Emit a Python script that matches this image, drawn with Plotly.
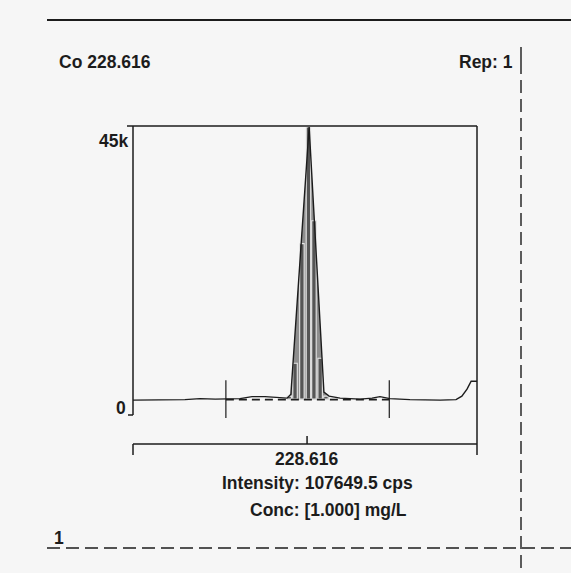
import plotly.graph_objects as go

# ---------------- data ----------------
element_line = "Co 228.616"
rep_label = "Rep: 1"
center_wl = 228.616
intensity_text = "Intensity: 107649.5 cps"
conc_text = "Conc: [1.000] mg/L"
y_tick_labels = ["45k", "0"]
y_tick_values = [45000, 0]
page_number = "1"

# spectrum (wavelength nm, intensity cps)
spec_wl = [228.5654, 228.5733, 228.5805, 228.5849, 228.5893, 228.5965, 228.6000,
           228.6038, 228.6082, 228.6102, 228.6113, 228.6166, 228.6209, 228.6224,
           228.6256, 228.6314, 228.6349, 228.6372, 228.6401, 228.6459, 228.6547,
           228.6593, 228.6610, 228.6625, 228.6637, 228.6654]
spec_int = [2336, 2336, 2413, 2569, 2491, 2569, 2880,
            2880, 2647, 2647, 3270, 45000, 3581, 2958,
            2647, 2491, 2647, 2880, 2569, 2413, 2336,
            2413, 2958, 4048, 5294, 5294]

# peak outline (for the shaded area)
peak_wl = [228.6102, 228.6113, 228.6166, 228.6209, 228.6224]
peak_int = [2647, 3270, 45000, 3581, 2958]

# measured points drawn as bars
bar_wl = [228.6108, 228.6125, 228.6145, 228.6164, 228.6180, 228.6198, 228.6215]
bar_int = [2958, 8096, 26780, 45000, 30360, 8875, 2958]
bar_base = 2491
bar_width = 0.0013

# background correction points and level
bg_wl = [228.5924, 228.6399]
bg_level = 2413

# ---------------- layout helpers ----------------
W, H = 571, 573
L, R, T, B = 133, 94, 127, 129
PW, PH = W - L - R, H - T - B
X_RANGE = [228.5654, 228.6654]
Y_RANGE = [-4515, 45000]


def px(x):
    return (x - L) / PW


def py(y):
    return (H - B - y) / PH


INK = "#1c1c1c"
BG = "#f6f6f6"
FONT = "Liberation Sans, Arial, sans-serif"

fig = go.Figure()

# shaded peak area
fig.add_trace(go.Scatter(
    x=peak_wl + [peak_wl[-1], peak_wl[0]],
    y=peak_int + [bar_base, bar_base],
    fill="toself", fillcolor="#8e8e8e", mode="none",
    hoverinfo="skip", showlegend=False))

# measured points as filled columns (scatter so they sit above the fill)
col_x, col_y = [], []
hw = bar_width / 2
for w, v in zip(bar_wl, bar_int):
    col_x += [w - hw, w - hw, w + hw, w + hw, w - hw, None]
    col_y += [bar_base, v, v, bar_base, bar_base, None]
fig.add_trace(go.Scatter(
    x=col_x, y=col_y, mode="lines", fill="toself", fillcolor="#555555",
    line=dict(color="#e8e8e8", width=1.1), hoverinfo="skip", showlegend=False))

# background dashed line
fig.add_trace(go.Scatter(
    x=bg_wl, y=[bg_level, bg_level], mode="lines",
    line=dict(color=INK, width=1.8, dash="8px,5px"), showlegend=False))

# spectrum line
fig.add_trace(go.Scatter(
    x=spec_wl, y=spec_int, mode="lines",
    line=dict(color=INK, width=1.4), showlegend=False))

shapes = []


def pline(x0, y0, x1, y1, width=1.5, dash="solid", color=INK):
    shapes.append(dict(type="line", xref="paper", yref="paper",
                       x0=px(x0), y0=py(y0), x1=px(x1), y1=py(y1),
                       line=dict(color=color, width=width, dash=dash)))


# plot frame
pline(127, 126, 477, 126)           # top + 45k tick
pline(133, 126, 133, 415)           # left axis
pline(128, 415, 133, 415)           # 0 tick
pline(477, 126, 477, 455)           # right
pline(133, 444, 477, 444)           # bottom axis
pline(133, 444, 133, 455)           # left end tick

# centre tick on bottom axis
shapes.append(dict(type="line", xref="x", yref="paper", x0=center_wl, x1=center_wl,
                   y0=py(444), y1=py(436), line=dict(color=INK, width=1.5)))

# background marker lines
for w in bg_wl:
    shapes.append(dict(type="line", xref="x", yref="y", x0=w, x1=w,
                       y0=5450, y1=-467, line=dict(color=INK, width=1.2)))

# page lines
pline(47, 20, 571, 20, width=1.8)
pline(521, 47, 521, 74, width=1.4)
pline(521, 80, 521, 573, width=1.4, dash="13px,6px")
pline(47, 548, 571, 548, width=1.4, dash="13px,6px")

annotations = []


def text(s, x, y, xanchor="center", size=17.5):
    annotations.append(dict(text="<b>%s</b>" % s, xref="paper", yref="paper",
                            x=px(x), y=py(y), xanchor=xanchor, yanchor="middle",
                            showarrow=False,
                            font=dict(family=FONT, size=size, color=INK)))


text(element_line, 57, 62, "left")
text(rep_label, 515, 62, "right")
text(y_tick_labels[0], 130, 141, "right")
text(y_tick_labels[1], 128, 408, "right")
text("%.3f" % center_wl, 307, 459)
text(intensity_text, 317, 483)
text(conc_text, 328, 510)
text(page_number, 59, 538)

fig.update_layout(
    width=W, height=H, autosize=False,
    margin=dict(l=L, r=R, t=T, b=B, pad=0),
    paper_bgcolor=BG, plot_bgcolor=BG,
    xaxis=dict(range=X_RANGE, visible=False, fixedrange=True),
    yaxis=dict(range=Y_RANGE, visible=False, fixedrange=True),
    shapes=shapes, annotations=annotations,
    showlegend=False,
)

fig.write_html("out.html")
